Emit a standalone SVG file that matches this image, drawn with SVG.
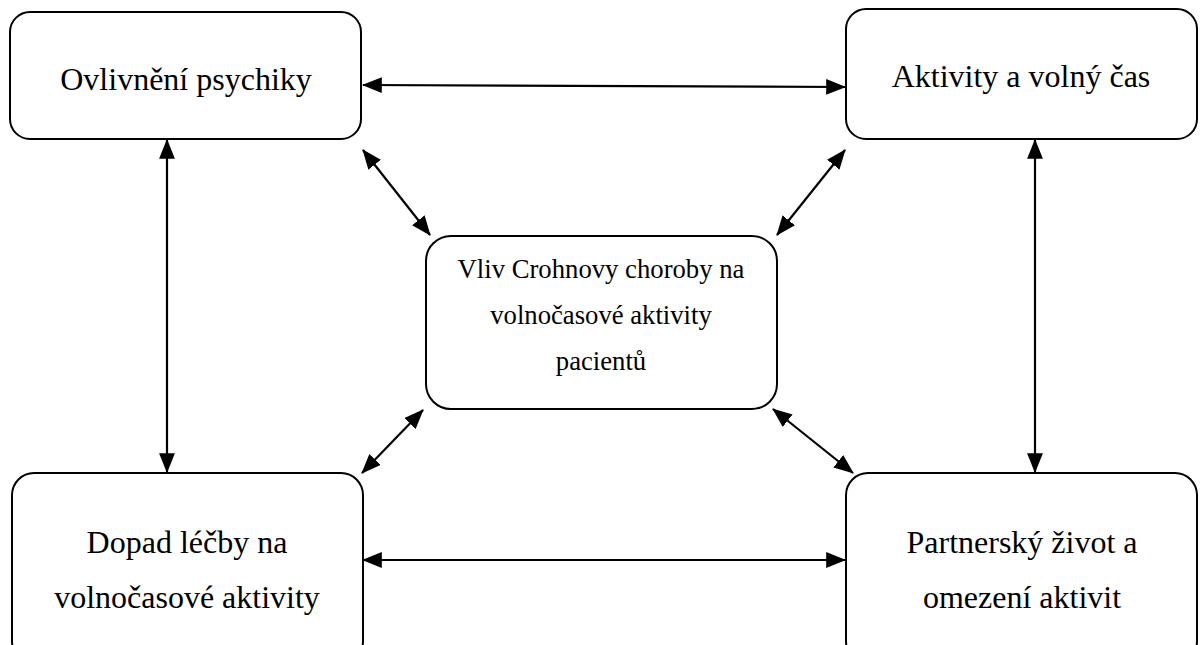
<svg xmlns="http://www.w3.org/2000/svg" width="1202" height="645" viewBox="0 0 1202 645">
<style>
.box{fill:#fff;stroke:#000;stroke-width:2}
text{font-family:'Liberation Serif','Times New Roman',serif;fill:#000;text-anchor:middle}
.big{font-size:32px}
.mid{font-size:26.7px}
.c line{stroke:#000;stroke-width:2.2;marker-start:url(#ah);marker-end:url(#ah)}
</style>
<defs>
<marker id="ah" markerUnits="strokeWidth" viewBox="0 0 20 16" markerWidth="9" markerHeight="7.2" refX="19" refY="8" orient="auto-start-reverse">
<path d="M0,0 L20,8 L0,16 z" fill="#000"/>
</marker>
</defs>
<rect width="1202" height="645" fill="#fff"/>
<g id="n1"><rect class="box" x="10" y="12" width="351" height="127" rx="20"/><text class="big" x="186" y="90">Ovlivnění psychiky</text></g>
<g id="n2"><rect class="box" x="846" y="9" width="351" height="130" rx="20"/><text class="big" x="1021" y="87">Aktivity a volný čas</text></g>
<g id="n3"><rect class="box" x="426" y="236" width="351" height="173" rx="25"/><text class="mid" x="601" y="278">Vliv Crohnovy choroby na</text><text class="mid" x="601" y="324">volnočasové aktivity</text><text class="mid" x="601" y="370">pacientů</text></g>
<g id="n4"><rect class="box" x="12" y="473" width="351" height="190" rx="22"/><text class="big" x="187" y="553">Dopad léčby na</text><text class="big" x="187" y="608">volnočasové aktivity</text></g>
<g id="n5"><rect class="box" x="846" y="473" width="351" height="190" rx="22"/><text class="big" x="1022" y="553">Partnerský život a</text><text class="big" x="1022" y="608">omezení aktivit</text></g>
<g id="connectors" class="c">
<line x1="363" y1="85" x2="845" y2="87"/>
<line x1="167" y1="140" x2="167" y2="472"/>
<line x1="1035" y1="140" x2="1035" y2="472"/>
<line x1="363" y1="560" x2="845" y2="560"/>
<line x1="363" y1="150" x2="430" y2="235"/>
<line x1="845" y1="150" x2="777" y2="235"/>
<line x1="423" y1="410" x2="362" y2="473"/>
<line x1="773" y1="409" x2="853" y2="473"/>
</g>
</svg>
